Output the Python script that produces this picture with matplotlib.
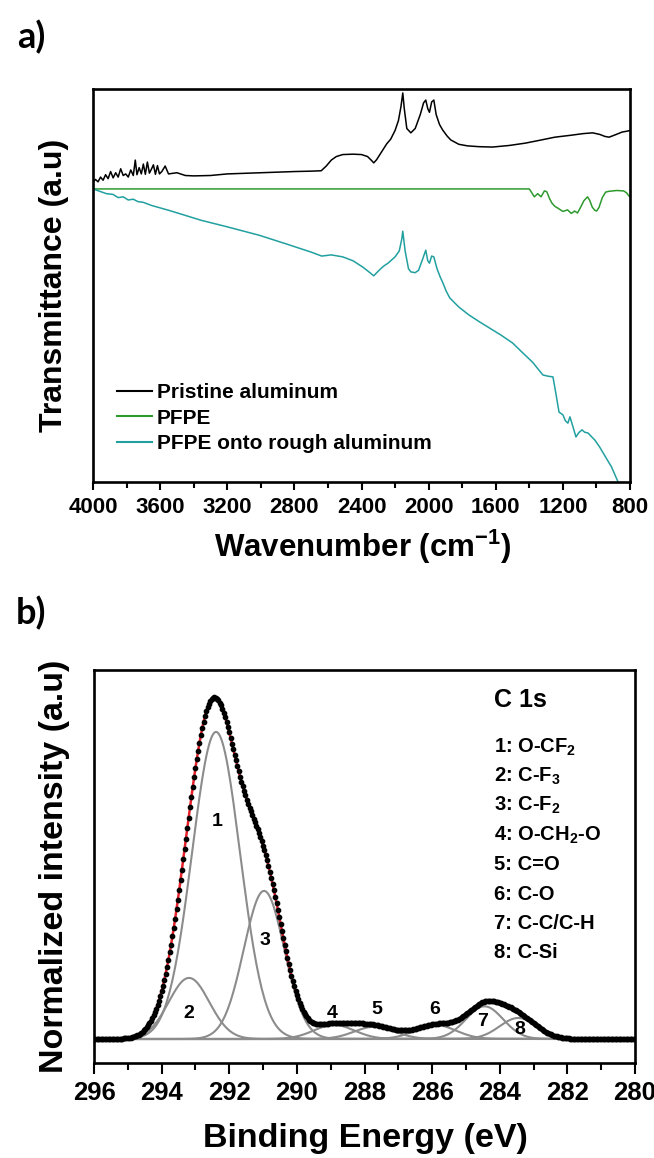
import matplotlib.pyplot as plt
import numpy as np
from matplotlib.ticker import MultipleLocator

plt.rcParams['font.family'] = ['Liberation Sans', 'DejaVu Sans']
plt.rcParams['font.weight'] = 'bold'
plt.rcParams['mathtext.fontset'] = 'custom'
plt.rcParams['mathtext.rm'] = 'Liberation Sans:bold'
plt.rcParams['mathtext.bf'] = 'Liberation Sans:bold'

# ---- panel a: FTIR spectra (arbitrary transmittance units) ----
black_w = [4000, 3985, 3970, 3955, 3940, 3925, 3910, 3895, 3880, 3865,
           3850, 3835, 3820, 3805, 3790, 3775, 3760, 3748, 3738, 3725,
           3712, 3700, 3688, 3676, 3664, 3652, 3640, 3628, 3616, 3604,
           3590, 3570, 3550, 3500, 3450, 3400, 3300, 3200, 3000, 2800,
           2700, 2640, 2610, 2580, 2550, 2512, 2450, 2400, 2364, 2340,
           2327, 2310, 2280, 2250, 2226, 2200, 2180, 2165, 2154, 2145,
           2130, 2106, 2080, 2050, 2030, 2017, 2005, 1995, 1982, 1969,
           1955, 1935, 1916, 1890, 1868, 1820, 1768, 1700, 1620, 1520,
           1423, 1340, 1248, 1150, 1080, 1023, 980, 950, 925, 900,
           870, 847, 820, 800]
black_t = [75.9, 76.6, 76.0, 77.2, 76.4, 77.8, 76.8, 78.6, 77.0, 78.3,
           77.2, 79.3, 77.6, 78.0, 77.2, 79.0, 77.6, 81.5, 77.8, 79.6,
           78.0, 80.5, 77.9, 81.0, 78.2, 79.2, 80.3, 77.9, 80.1, 78.0,
           78.6, 80.0, 78.0, 78.3, 77.6, 77.5, 77.6, 78.0, 78.3, 78.6,
           78.7, 78.8, 80.0, 81.5, 82.4, 82.9, 83.0, 82.9, 82.4, 81.4,
           80.8, 81.6, 83.6, 85.6, 86.8, 89.0, 91.5, 95.0, 98.5, 94.5,
           89.5, 88.4, 89.5, 93.0, 96.0, 96.7, 94.5, 93.6, 96.2, 96.7,
           93.0, 90.5, 89.1, 87.6, 86.6, 85.5, 85.1, 84.9, 84.8, 85.2,
           85.8, 86.5, 87.3, 87.8, 88.2, 88.4, 88.0, 87.5, 87.3, 87.7,
           88.2, 88.6, 88.8, 89.0]

green_w = [4000, 3000, 2000, 1400, 1385, 1370, 1350, 1330, 1310, 1296,
           1280, 1265, 1248, 1225, 1200, 1172, 1150, 1130, 1113, 1095,
           1075, 1053, 1040, 1025, 1010, 999, 985, 965, 945, 925,
           880, 838, 820, 808, 800]
green_t = [74.2, 74.2, 74.2, 74.2, 73.2, 72.2, 73.0, 72.2, 73.7, 73.5,
           71.8, 70.6, 69.8, 69.2, 68.5, 68.9, 68.0, 68.6, 68.1, 69.5,
           71.2, 72.2, 71.3, 69.6, 68.8, 68.6, 69.5, 72.0, 73.4, 73.6,
           73.8, 73.7, 73.2, 72.5, 72.2]

teal_w = [4000, 3960, 3920, 3880, 3850, 3820, 3790, 3760, 3733, 3700,
          3650, 3550, 3450, 3359, 3200, 3012, 2850, 2700, 2637, 2580,
          2512, 2450, 2392, 2350, 2327, 2300, 2270, 2242, 2200, 2175,
          2160, 2154, 2140, 2120, 2106, 2080, 2060, 2035, 2017, 2005,
          1995, 1982, 1969, 1950, 1930, 1916, 1895, 1874, 1820, 1760,
          1695, 1630, 1569, 1500, 1444, 1380, 1319, 1290, 1259, 1240,
          1223, 1200, 1185, 1170, 1158, 1140, 1122, 1105, 1086, 1070,
          1050, 1030, 1009, 980, 948, 910, 871, 850]
teal_t = [74.2, 73.6, 73.0, 72.8, 72.0, 72.2, 71.4, 71.6, 71.0, 70.8,
          70.0, 68.8, 67.5, 66.3, 64.6, 62.5, 60.3, 58.2, 57.2, 57.5,
          57.0, 56.0, 54.4, 53.0, 52.2, 53.4, 54.6, 55.4, 57.0, 58.5,
          61.5, 63.5, 58.5, 54.0, 53.2, 53.0, 53.6, 56.5, 58.7, 56.0,
          55.4, 57.2, 57.0, 54.0, 51.8, 50.5, 48.3, 46.6, 44.3, 42.3,
          40.5, 38.8, 37.2, 35.2, 32.9, 30.3, 27.1, 26.8, 26.6, 22.0,
          17.7, 17.0, 15.5, 14.9, 16.5, 14.0, 11.4, 12.5, 13.2, 12.6,
          12.4, 11.5, 10.6, 8.8, 6.5, 3.8, 0.0, -1.5]

ir_ticks = [4000, 3600, 3200, 2800, 2400, 2000, 1600, 1200, 800]

# ---- panel b: C 1s XPS peak fit (normalized) ----
peak_ids = ['1', '2', '3', '4', '5', '6', '7', '8']
peak_center = [292.39, 293.19, 290.97, 288.9, 287.7, 285.9, 284.45, 283.45]
peak_height = [0.875, 0.174, 0.422, 0.040, 0.035, 0.040, 0.093, 0.060]
peak_sigma = [0.71, 0.60, 0.60, 0.60, 0.60, 0.60, 0.55, 0.55]
label_e = [292.36, 293.19, 290.94, 288.97, 287.64, 285.91, 284.5, 283.4]
label_i = [0.619, 0.074, 0.282, 0.074, 0.083, 0.083, 0.050, 0.027]
assignments = ['1: O-CF$_{\\mathbf{2}}$', '2: C-F$_{\\mathbf{3}}$', '3: C-F$_{\\mathbf{2}}$',
               '4: O-CH$_{\\mathbf{2}}$-O', '5: C=O', '6: C-O', '7: C-C/C-H', '8: C-Si']
xps_ticks = [296, 294, 292, 290, 288, 286, 284, 282, 280]

W, H = 654, 1158
fig = plt.figure(figsize=(W / 100, H / 100), dpi=100)

# ================= panel a =================
ax1 = fig.add_axes([93 / W, 1 - 482 / H, 537 / W, 393 / H])
ax1.plot(black_w, black_t, color='black', lw=1.1, label='Pristine aluminum')
ax1.plot(green_w, green_t, color='#2e9a2e', lw=1.1, label='PFPE')
ax1.plot(teal_w, teal_t, color='#22a0a0', lw=1.1, label='PFPE onto rough aluminum')
ax1.set_xlim(4000, 800)
ax1.set_ylim(0, 99.5)
ax1.set_xticks(ir_ticks)
ax1.xaxis.set_minor_locator(MultipleLocator(200))
ax1.set_yticks([])
ax1.tick_params(axis='x', which='major', direction='out', length=6, width=1.5,
                pad=5, labelsize=16)
ax1.tick_params(axis='x', which='minor', direction='out', length=4, width=1.5)
for lab in ax1.get_xticklabels():
    lab.set_fontweight('bold')
for sp in ax1.spines.values():
    sp.set_linewidth(1.9)
ax1.set_xlabel('Wavenumber (cm$^{\\mathbf{-1}}$)', fontsize=22.5, fontweight='bold', va='center')
ax1.xaxis.set_label_coords(0.502, -0.165)
ax1.set_ylabel('Transmittance (a.u)', fontsize=23, fontweight='bold', va='center')
ax1.yaxis.set_label_coords(-0.0726, 0.5)
leg = ax1.legend(loc='upper left', bbox_to_anchor=(0.045, 0.252), frameon=False,
                 fontsize=15, handlelength=1.65, handletextpad=0.25,
                 labelspacing=0.32, borderpad=0, borderaxespad=0)
for t in leg.get_texts():
    t.set_fontweight('bold')
for l in leg.get_lines():
    l.set_linewidth(1.5)

# ================= panel b =================
ax2 = fig.add_axes([94 / W, 1 - 1063 / H, 541 / W, 393 / H])
energy = np.arange(280, 296.0001, 0.04)
comps = [h * np.exp(-(energy - c) ** 2 / (2 * s ** 2))
         for c, h, s in zip(peak_center, peak_height, peak_sigma)]
envelope = np.sum(comps, axis=0)
for comp in comps:
    ax2.plot(energy, comp, color='#8c8c8c', lw=1.5, zorder=2)
ax2.plot(energy, envelope, color='#e8202a', lw=1.8, zorder=3)
ax2.plot(energy, envelope, ls='none', marker='o', ms=3.1, color='black', zorder=4)
for pid, e, i in zip(peak_ids, label_e, label_i):
    ax2.text(e, i, pid, fontsize=14, fontweight='bold', ha='center', va='center', zorder=5)

ax2.text(0.739, 0.924, 'C 1s', transform=ax2.transAxes, fontsize=18,
         fontweight='bold', ha='left', va='center')
for k, txt in enumerate(assignments):
    py = 747 + k * 29.4
    ax2.text(0.739, (1063 - py) / 393, txt, transform=ax2.transAxes, fontsize=14.5,
             fontweight='bold', ha='left', va='center')

ax2.set_xlim(296, 280)
ax2.set_ylim(-24 / 351, 369 / 351)
ax2.set_xticks(xps_ticks)
ax2.xaxis.set_minor_locator(MultipleLocator(1))
ax2.set_yticks([])
ax2.tick_params(axis='x', which='major', direction='out', length=8, width=1.5,
                pad=5, labelsize=18.5)
ax2.tick_params(axis='x', which='minor', direction='out', length=5, width=1.5)
for lab in ax2.get_xticklabels():
    lab.set_fontweight('bold')
for sp in ax2.spines.values():
    sp.set_linewidth(1.9)
ax2.set_xlabel('Binding Energy (eV)', fontsize=24.5, fontweight='bold', va='center')
ax2.xaxis.set_label_coords(0.502, -0.191)
ax2.set_ylabel('Normalized intensity (a.u)', fontsize=24.5, fontweight='bold', va='center')
ax2.yaxis.set_label_coords(-0.0739, 0.5)

fig.text(31 / W, 1 - 37 / H, 'a)', fontsize=26, fontweight='bold', family='Lato',
         ha='center', va='center')
fig.text(31 / W, 1 - 613 / H, 'b)', fontsize=26, fontweight='bold', family='Lato',
         ha='center', va='center')

fig.savefig('out.png', dpi=100)
